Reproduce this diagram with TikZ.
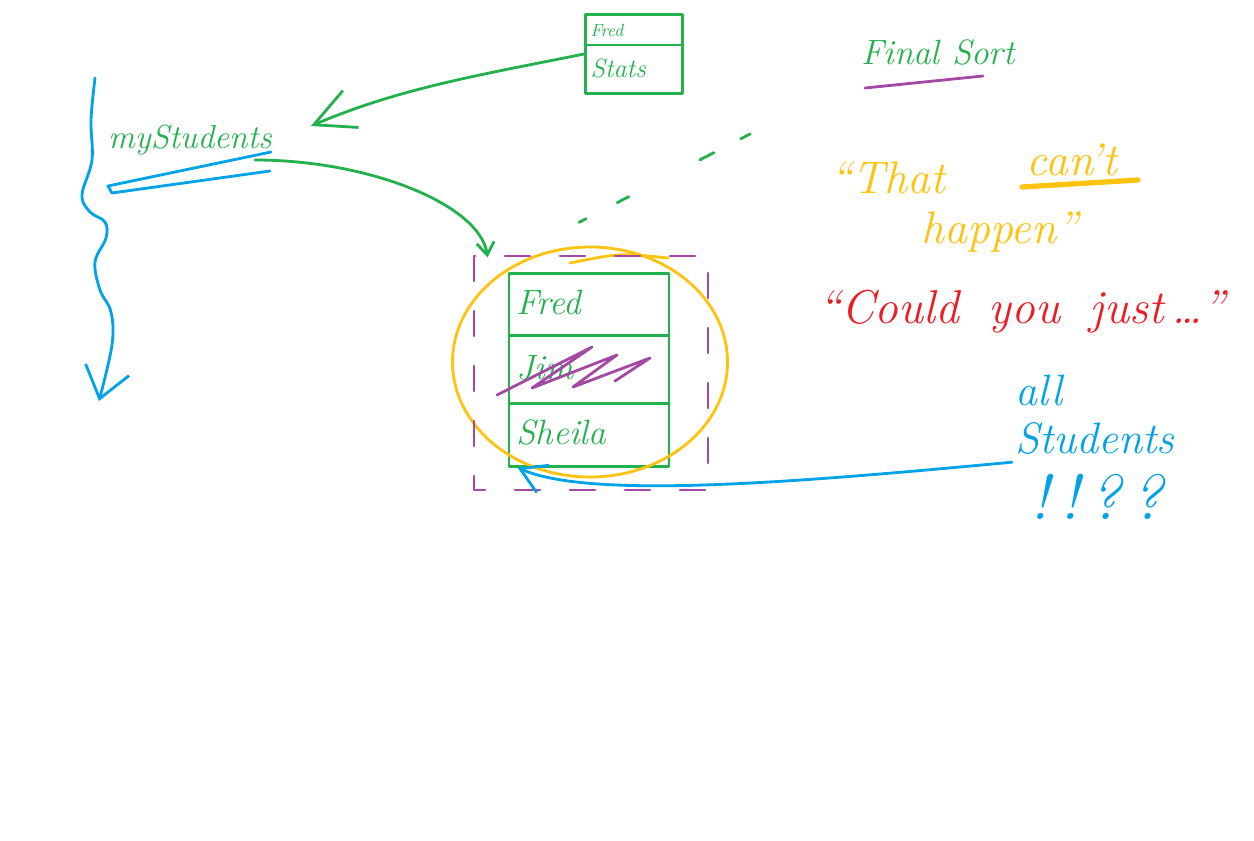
\documentclass[tikz,border=0pt]{standalone}
\usepackage{tikz}
\usetikzlibrary{arrows.meta,shapes.multipart,shapes.geometric}
\definecolor{penGreen}{HTML}{22B14C}
\definecolor{penBlue}{HTML}{00A2E8}
\definecolor{penPurple}{HTML}{A349A4}
\definecolor{penOrange}{HTML}{FFC20E}
\definecolor{penRed}{HTML}{ED1C24}
\newcommand{\rowstrut}[2]{\rule[-#2]{0pt}{#1}}

\begin{document}
\begin{tikzpicture}[x=0.2mm,y=-0.2mm,line width=1.6pt,line cap=round,line join=round,
	  every node/.append style={inner sep=1pt}]
	  \tikzstyle{word} = [font=\itshape]
	  \tikzstyle{table} = [draw=penGreen,text=penGreen,rectangle split,font=\itshape]
	  \useasboundingbox (0,0) rectangle (1254,841);
	  % nodes
	  \node (stats_box) [table,rectangle split parts=2,text width=17.4mm,inner xsep=1mm,inner ysep=0.5mm] at (634,54)
	    {\fontsize{10}{12}\selectfont\rowstrut{4.6mm}{1mm}Fred \nodepart{two} \fontsize{15}{18}\selectfont\rowstrut{8.2mm}{2.4mm}Stats};
	  \node (mystud) [word,text=penGreen,font=\itshape\fontsize{19}{22}\selectfont] at (190,140) {myStudents};
	  \node (tab) [table,rectangle split parts=3,text width=29mm,inner xsep=1.5mm,inner ysep=1mm,
	    font=\itshape\fontsize{20}{24}\selectfont] at (589,370)
	    {\rowstrut{9.8mm}{3mm}Fred \nodepart{two} \rowstrut{11mm}{3.5mm}Jim \nodepart{three} \rowstrut{10mm}{3mm}Sheila};
	  \node (ring) [draw=penOrange,ellipse,minimum width=55mm,minimum height=46mm] at (590,362) {};
	  \node (final) [word,text=penGreen,font=\itshape\fontsize{20}{24}\selectfont] at (938,52) {Final Sort};
	  \node (that) [word,text=penOrange,font=\itshape\fontsize{26}{30}\selectfont] at (888,178) {“That};
	  \node (cant) [word,text=penOrange,font=\itshape\fontsize{26}{30}\selectfont] at (1072,160) {can't};
	  \node (happen) [word,text=penOrange,font=\itshape\fontsize{26}{30}\selectfont] at (1000,232) {happen”};
	  \node (could) [word,text=penRed,font=\itshape\fontsize{27}{32}\selectfont] at (1022,312) {“Could\hspace{6mm}you\hspace{6mm}just\,…”};
	  \node (allstud) [word,text=penBlue,align=left,anchor=north west,font=\itshape\fontsize{25}{27}\selectfont] at (1012,372) {all\\Students};
	  \node (shout) [word,text=penBlue,font=\itshape\fontsize{36}{40}\selectfont] at (1097,497) {!\,!\,?\,?};
	  \coordinate (brace_top) at (95,78);
	  \coordinate (brace_end) at (99,401);
	  \coordinate (dash_end) at (750,134);
	  % underlines and marks
	  \draw[penBlue] (271,152) -- (108,186) -- (112,193) -- (270,171);
	  \draw[penPurple] (865,88) -- (983,76);
	  \draw[penOrange,line width=3pt] (1022,187) -- (1138,180);
	  \draw[penPurple] (497,395) -- (592,347) -- (532,388) -- (617,355) -- (573,387) -- (650,358) -- (615,381);
	  \draw[penOrange] (570,263) .. controls (620,253) .. (668,258);
	  \draw[penPurple,dash pattern=on 5mm off 6mm] (474,256) rectangle (708,490);
	  % connectors
	  \draw[penBlue,-{Straight Barb[length=6mm,width=9mm]}] plot[smooth,tension=0.6] coordinates
	    {(brace_top) (91,120) (92,160) (82,195) (90,212) (105,222) (106,238) (95,262) (100,290) (111,312) (112,345) (brace_end)};
	  \draw[penGreen,-{Straight Barb[length=8mm,width=8mm]}] (stats_box.west) .. controls (480,75) and (400,88) .. ([xshift=7.2mm,yshift=2.8mm]mystud.east);
	  \draw[penGreen,-{Straight Barb[length=2.5mm,width=3.5mm]}] ([xshift=-4mm,yshift=-4mm]mystud.east) .. controls (370,160) and (480,205) .. ([xshift=-4mm,yshift=3mm]tab.north west);
	  \draw[penBlue,-{Straight Barb[length=5mm,width=6mm]}] ([yshift=-1mm]allstud.south west) .. controls (800,482) and (590,500) .. ([xshift=2mm]tab.south west);
	  \draw[penGreen,dash pattern=on 1.6mm off 7mm on 2.6mm off 16mm on 3.2mm off 6mm on 2.6mm off 20mm] ([xshift=-2mm,yshift=10mm]tab.north) -- (dash_end);
	\end{tikzpicture}
\end{document}
